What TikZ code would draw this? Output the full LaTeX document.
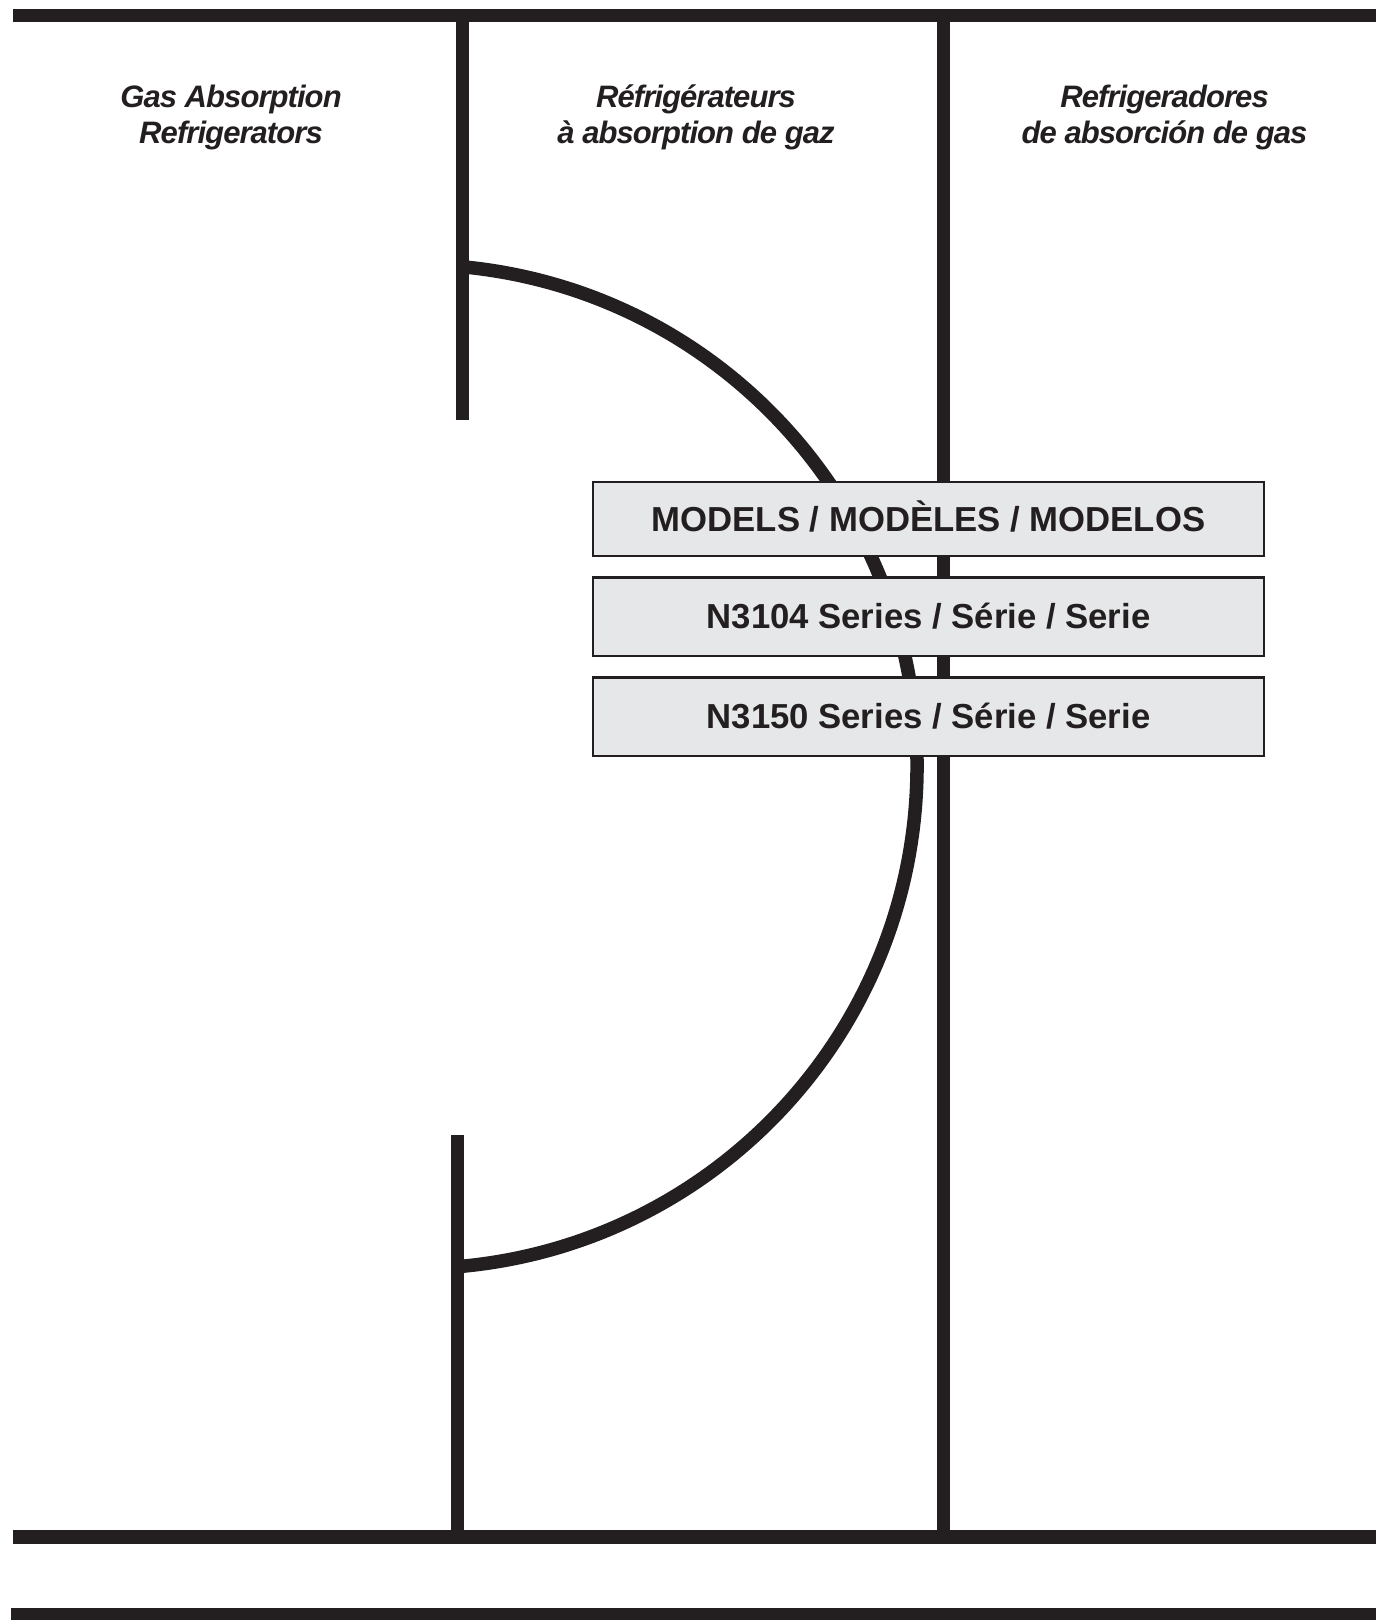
\documentclass[tikz,border=0pt]{standalone}
\usepackage{fontspec}
\setmainfont{Liberation Sans}
\definecolor{ink}{HTML}{231F20}
\definecolor{boxgray}{HTML}{E6E7E8}
\tikzset{
  bar/.style={draw=ink, line width=13.7pt},
  rail/.style={draw=ink, line width=13pt},
  swing/.style={draw=ink, line width=13.5pt},
  header/.style={anchor=base, inner sep=0pt, text=ink,
    font=\fontsize{31}{36}\selectfont\bfseries\itshape\addfontfeature{LetterSpace=-3}},
  modelbox/.style={draw=ink, line width=2.5pt, fill=boxgray, inner sep=0pt,
    minimum width=670.6pt, text=ink, text height=24.6pt, text depth=0pt,
    font=\fontsize{34.7}{40}\selectfont\bfseries}
}
\begin{document}
\begin{tikzpicture}[x=1pt,y=1pt]
\useasboundingbox[fill=white] (0,0) rectangle (1376,-1620);
% horizontal bars
\coordinate (topL) at (13,-15.5);
\coordinate (topR) at (1376,-15.5);
\coordinate (botL) at (13,-1537);
\coordinate (botR) at (1376,-1537);
\draw[bar] (topL) -- (topR);
\draw[bar] (botL) -- (botR);
\fill[ink] (11,-1607.7) rectangle (1376,-1620);
% vertical rails
\coordinate (r1a) at (462.7,-15.5);
\coordinate (r1b) at (462.7,-420);
\coordinate (r2a) at (943,-15.5);
\coordinate (r2b) at (943,-1537);
\coordinate (r3a) at (457.7,-1135);
\coordinate (r3b) at (457.7,-1537);
\draw[rail] (r1a) -- (r1b);
\draw[rail] (r2a) -- (r2b);
\draw[rail] (r3a) -- (r3b);
% door swing arc
\coordinate (arcS) at (462.7,-266.8);
\draw[swing] (arcS) arc[start angle=84.55, end angle=-85.12, radius=502];
% headers
\node[header] (h1a) at (231,-107) {Gas Absorption};
\node[header] (h1b) at (231,-143.5) {Refrigerators};
\node[header] (h2a) at (696,-107) {Réfrigérateurs};
\node[header] (h2b) at (696,-143.5) {à absorption de gaz};
\node[header] (h3a) at (1164.5,-107) {Refrigeradores};
\node[header] (h3b) at (1164.5,-143.5) {de absorción de gas};
% model boxes
\node[modelbox, minimum height=73.6pt] (m0) at (928.5,-519) {MODELS / MODÈLES / MODELOS};
\node[modelbox, minimum height=78.5pt] (m1) at (928.5,-616.5) {N3104 Series / Série / Serie};
\node[modelbox, minimum height=78.5pt] (m2) at (928.5,-716.5) {N3150 Series / Série / Serie};
\end{tikzpicture}
\end{document}
